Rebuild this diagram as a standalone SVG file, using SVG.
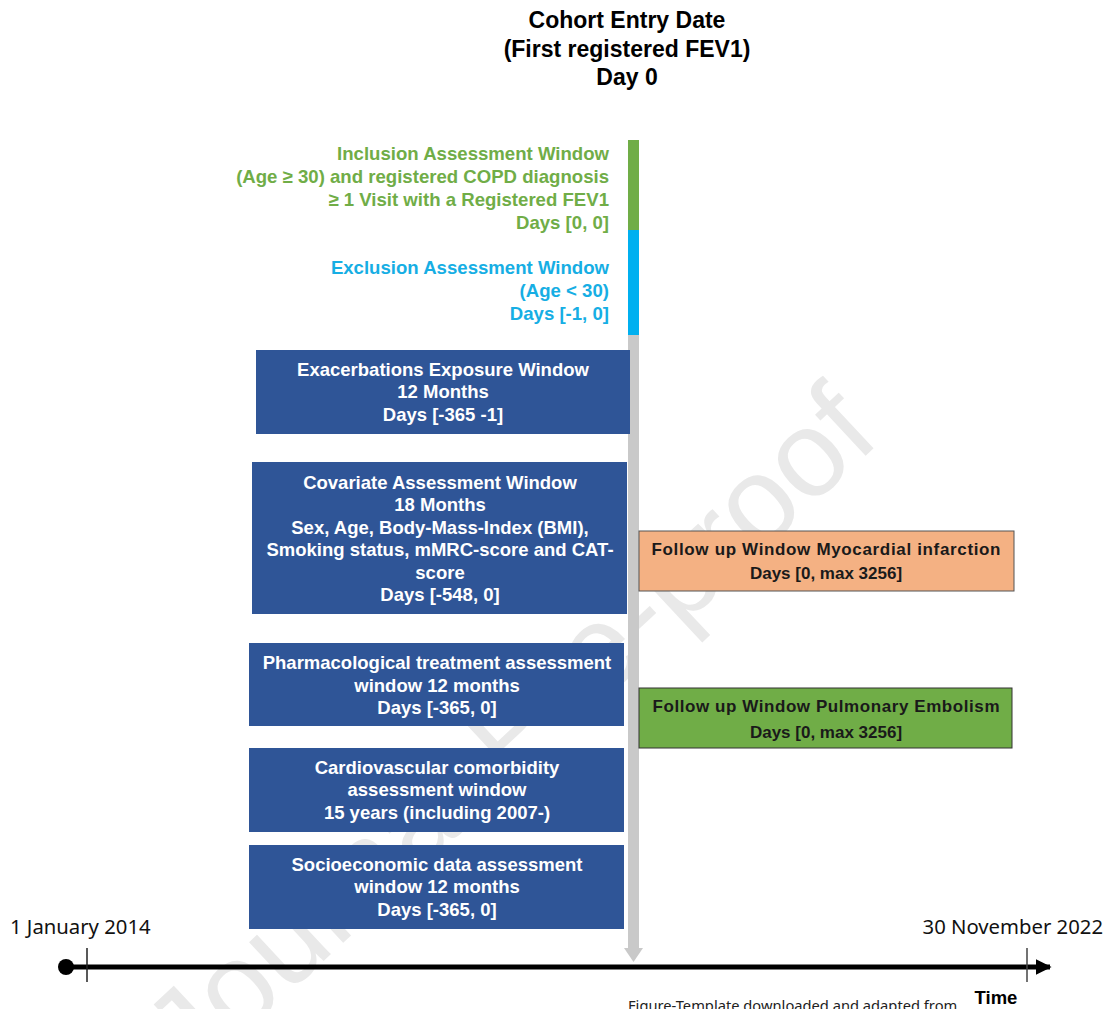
<svg xmlns="http://www.w3.org/2000/svg" width="1108" height="1009" viewBox="0 0 1108 1009">
<style>
.b{fill:#2f5597}
.bt{font-family:"Liberation Sans",Arial,sans-serif;font-weight:bold;font-size:18.5px;fill:#fff;text-anchor:middle}
.ft{font-family:"Liberation Sans",Arial,sans-serif;font-weight:bold;font-size:17px;fill:#1a1a1a;text-anchor:middle}
.gt{font-family:"Liberation Sans",Arial,sans-serif;font-weight:bold;font-size:18.6px;fill:#70ad47;text-anchor:end}
.ct{font-family:"Liberation Sans",Arial,sans-serif;font-weight:bold;font-size:18.6px;fill:#16aee4;text-anchor:end}
.tt{font-family:"Liberation Sans",Arial,sans-serif;font-weight:bold;font-size:23px;fill:#000;text-anchor:middle}
.dt{font-family:"Noto Sans","Open Sans",sans-serif;font-size:20.3px;fill:#111}
</style>
<defs>
<marker id="ah" viewBox="0 0 10 10" refX="9" refY="5" markerWidth="3.2" markerHeight="3.2" orient="auto" markerUnits="strokeWidth"><path d="M0,0 L10,5 L0,10 z" fill="#000"/></marker>
</defs>
<rect width="1108" height="1009" fill="#fff"/>
<text x="490" y="780" transform="rotate(-43 490 710)" font-family="Liberation Sans,Arial,sans-serif" font-size="122" fill="#e9e9e9" text-anchor="middle">Journal Pre-proof</text>
<g id="title">
<text class="tt" x="627" y="28">Cohort Entry Date</text>
<text class="tt" x="627" y="57">(First registered FEV1)</text>
<text class="tt" x="627" y="85">Day 0</text>
</g>
<g id="connectors">
<rect x="628" y="140" width="11" height="810" fill="#c9c9c9"/>
<path d="M624,948 L643,948 L633.5,962 z" fill="#c9c9c9"/>
<rect x="628" y="140" width="11" height="90" fill="#70ad47"/>
<rect x="628" y="230" width="11" height="105" fill="#00b0f0"/>
<line x1="66" y1="967" x2="1050" y2="967" stroke="#000" stroke-width="5" marker-end="url(#ah)"/>
<circle cx="66" cy="967" r="8" fill="#000"/>
<line x1="87" y1="948" x2="87" y2="982" stroke="#222" stroke-width="1.5"/>
<line x1="1027" y1="948" x2="1027" y2="982" stroke="#444" stroke-width="1.5"/>
</g>
<g id="inclusion">
<text class="gt" x="609" y="160">Inclusion Assessment Window</text>
<text class="gt" x="609" y="183">(Age ≥ 30) and registered COPD diagnosis</text>
<text class="gt" x="609" y="206">≥ 1 Visit with a Registered FEV1</text>
<text class="gt" x="609" y="229">Days [0, 0]</text>
</g>
<g id="exclusion">
<text class="ct" x="609" y="274">Exclusion Assessment Window</text>
<text class="ct" x="609" y="297">(Age &lt; 30)</text>
<text class="ct" x="609" y="320">Days [-1, 0]</text>
</g>
<g id="exacerbations">
<rect class="b" x="256" y="350" width="374" height="84"/>
<text class="bt" x="443" y="376">Exacerbations Exposure Window</text>
<text class="bt" x="443" y="398">12 Months</text>
<text class="bt" x="443" y="421">Days [-365 -1]</text>
</g>
<g id="covariate">
<rect class="b" x="252" y="462" width="375" height="152"/>
<text class="bt" x="440" y="489">Covariate Assessment Window</text>
<text class="bt" x="440" y="511">18 Months</text>
<text class="bt" x="440" y="534">Sex, Age, Body-Mass-Index (BMI),</text>
<text class="bt" x="440" y="556">Smoking status, mMRC-score and CAT-</text>
<text class="bt" x="440" y="579">score</text>
<text class="bt" x="440" y="601">Days [-548, 0]</text>
</g>
<g id="pharma">
<rect class="b" x="249" y="643" width="375" height="83"/>
<text class="bt" x="437" y="669">Pharmacological treatment assessment</text>
<text class="bt" x="437" y="692">window 12 months</text>
<text class="bt" x="437" y="714">Days [-365, 0]</text>
</g>
<g id="cardio">
<rect class="b" x="249" y="748" width="375" height="84"/>
<text class="bt" x="437" y="774">Cardiovascular comorbidity</text>
<text class="bt" x="437" y="796">assessment window</text>
<text class="bt" x="437" y="819">15 years (including 2007-)</text>
</g>
<g id="socio">
<rect class="b" x="249" y="845" width="375" height="84"/>
<text class="bt" x="437" y="871">Socioeconomic data assessment</text>
<text class="bt" x="437" y="893">window 12 months</text>
<text class="bt" x="437" y="916">Days [-365, 0]</text>
</g>
<g id="followup-mi">
<rect x="639" y="531" width="375" height="60" fill="#f4b183" stroke="#555" stroke-width="1"/>
<text class="ft" x="826" y="555" textLength="349" lengthAdjust="spacing">Follow up Window Myocardial infarction</text>
<text class="ft" x="826" y="579">Days [0, max 3256]</text>
</g>
<g id="followup-pe">
<rect x="639" y="688" width="373" height="60" fill="#70ad47" stroke="#333" stroke-width="1"/>
<text class="ft" x="826" y="712" textLength="347" lengthAdjust="spacing">Follow up Window Pulmonary Embolism</text>
<text class="ft" x="826" y="738">Days [0, max 3256]</text>
</g>
<g id="labels">
<text class="dt" x="10" y="934">1 January 2014</text>
<text class="dt" x="1103" y="934" text-anchor="end">30 November 2022</text>
<text x="996" y="1004" font-family="Liberation Sans,Arial,sans-serif" font-weight="bold" font-size="18.5" text-anchor="middle" fill="#000">Time</text>
<text x="628" y="1011" font-family="Noto Sans,Open Sans,sans-serif" font-size="14.7" fill="#222">Figure-Template downloaded and adapted from</text>
</g>
</svg>
